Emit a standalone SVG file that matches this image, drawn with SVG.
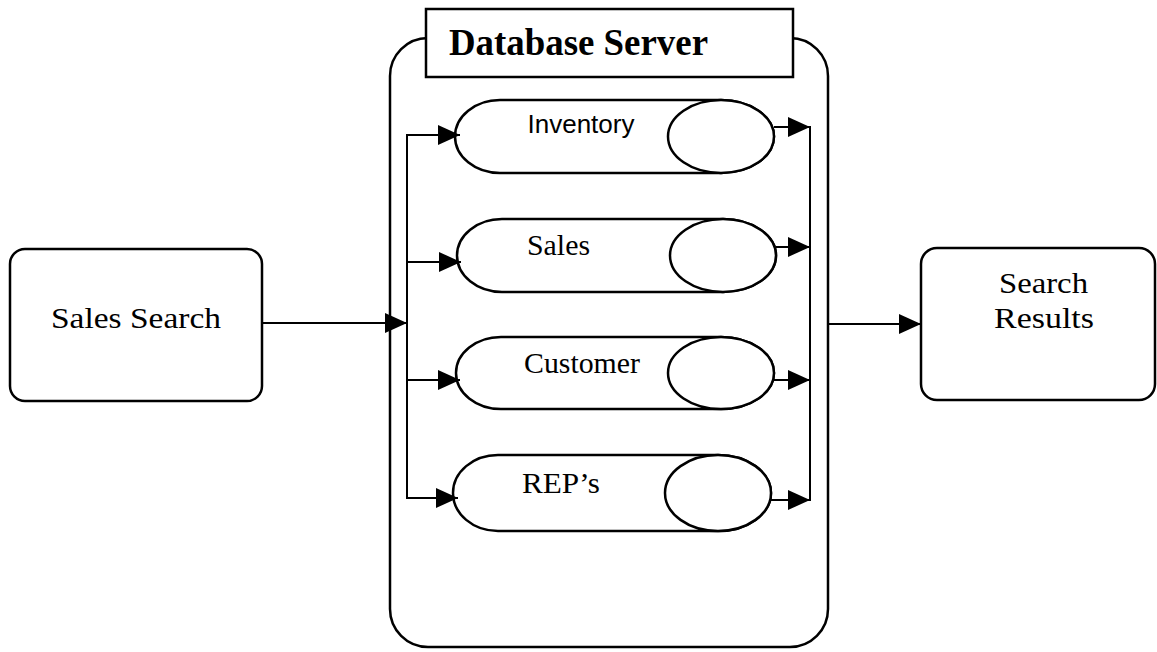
<svg xmlns="http://www.w3.org/2000/svg" width="1157" height="652" viewBox="0 0 1157 652">
  <style>
    .box { fill: #fff; stroke: #000; stroke-width: 2.5; }
    .wire { fill: none; stroke: #000; stroke-width: 2; }
    .serif { font-family: "Liberation Serif", "Times New Roman", serif; fill: #000; }
    .sans { font-family: "Liberation Sans", Arial, sans-serif; fill: #000; }
  </style>
  <defs>
    <marker id="arrow" viewBox="0 0 22 20" refX="22" refY="10" markerWidth="22" markerHeight="20" markerUnits="userSpaceOnUse" orient="auto">
      <path d="M0,0 L22,10 L0,20 Z" fill="#000"/>
    </marker>
  </defs>

  <rect width="1157" height="652" fill="#fff"/>

  <!-- client request -->
  <g id="sales-search">
    <rect class="box" x="10" y="249" width="252" height="152" rx="15" ry="15"/>
    <text class="serif" x="51" y="328" font-size="29" textLength="170" lengthAdjust="spacingAndGlyphs">Sales Search</text>
  </g>

  <!-- server enclosure -->
  <g id="database-server">
    <rect class="box" x="390" y="38" width="438" height="609" rx="38" ry="38"/>
    <rect class="box" x="426" y="9" width="367" height="68"/>
    <text class="serif" x="449" y="55" font-size="37" font-weight="bold" textLength="259" lengthAdjust="spacingAndGlyphs">Database Server</text>
  </g>

  <!-- tables drawn as horizontal cylinders -->
  <g id="inventory">
    <path class="box" d="M500,100 H721 A53,36.5 0 0 1 721,173 H500 A45,36.5 0 0 1 500,100 Z"/>
    <ellipse class="box" cx="721" cy="136.5" rx="53" ry="36.5"/>
    <text class="sans" x="581" y="133" font-size="26" text-anchor="middle">Inventory</text>
  </g>

  <g id="sales">
    <path class="box" d="M502,219 H723 A53,36.5 0 0 1 723,292 H502 A45,36.5 0 0 1 502,219 Z"/>
    <ellipse class="box" cx="723" cy="255.5" rx="53" ry="36.5"/>
    <text class="serif" x="527" y="255" font-size="30" textLength="63" lengthAdjust="spacingAndGlyphs">Sales</text>
  </g>

  <g id="customer">
    <path class="box" d="M501,337 H721 A53,36 0 0 1 721,409 H501 A45,36 0 0 1 501,337 Z"/>
    <ellipse class="box" cx="721" cy="373" rx="53" ry="36"/>
    <text class="serif" x="524" y="373" font-size="30" textLength="116" lengthAdjust="spacingAndGlyphs">Customer</text>
  </g>

  <g id="reps">
    <path class="box" d="M498,455 H718 A53,38 0 0 1 718,531 H498 A45,38 0 0 1 498,455 Z"/>
    <ellipse class="box" cx="718" cy="493" rx="53" ry="38"/>
    <text class="serif" x="522" y="493" font-size="30" textLength="78" lengthAdjust="spacingAndGlyphs">REP’s</text>
  </g>

  <!-- result screen -->
  <g id="search-results">
    <rect class="box" x="921" y="248" width="234" height="152" rx="16" ry="16"/>
    <text class="serif" x="999" y="293" font-size="30" textLength="89" lengthAdjust="spacingAndGlyphs">Search</text>
    <text class="serif" x="994" y="328" font-size="30" textLength="100" lengthAdjust="spacingAndGlyphs">Results</text>
  </g>

  <g id="connectors">
    <!-- request into the fan-out bus -->
    <line class="wire" x1="262" y1="323" x2="407" y2="323" marker-end="url(#arrow)"/>
    <line class="wire" x1="407" y1="134" x2="407" y2="499"/>
    <line class="wire" x1="406" y1="135" x2="460" y2="135" marker-end="url(#arrow)"/>
    <line class="wire" x1="406" y1="262" x2="461" y2="262" marker-end="url(#arrow)"/>
    <line class="wire" x1="406" y1="380" x2="460" y2="380" marker-end="url(#arrow)"/>
    <line class="wire" x1="406" y1="498" x2="458" y2="498" marker-end="url(#arrow)"/>
    <!-- table outputs into the collecting bus -->
    <line class="wire" x1="774" y1="127" x2="810" y2="127" marker-end="url(#arrow)"/>
    <line class="wire" x1="776" y1="247" x2="810" y2="247" marker-end="url(#arrow)"/>
    <line class="wire" x1="774" y1="380" x2="810" y2="380" marker-end="url(#arrow)"/>
    <line class="wire" x1="771" y1="500" x2="810" y2="500" marker-end="url(#arrow)"/>
    <line class="wire" x1="810" y1="126" x2="810" y2="501"/>
    <!-- server response -->
    <line class="wire" x1="828" y1="324" x2="921" y2="324" marker-end="url(#arrow)"/>
  </g>
</svg>
